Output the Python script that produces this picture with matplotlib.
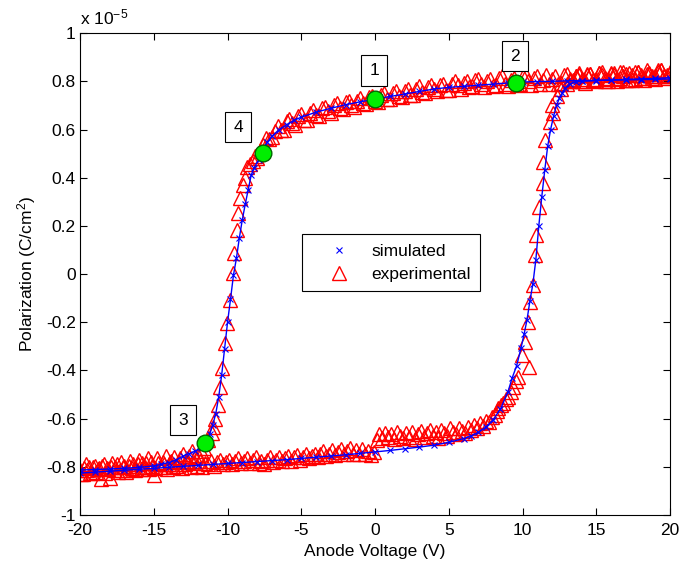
import matplotlib
matplotlib.use("Agg")
import matplotlib.pyplot as plt
from matplotlib.ticker import FuncFormatter

plt.rcParams['font.family'] = ['Liberation Sans', 'DejaVu Sans']
plt.rcParams['axes.unicode_minus'] = False
plt.rcParams['mathtext.default'] = 'regular'

# simulated loop, upper branch (voltage going down), units of 1e-5 C/cm^2
sim_up_v = [20, 19, 18, 17, 16, 15, 14, 13, 12, 11, 10, 9.5, 9, 8, 7, 6, 5, 4, 3, 2, 1, 0,
            -1, -2, -3, -4, -5, -5.5, -6, -6.5, -7, -7.3, -7.6, -7.9, -8.2, -8.4, -8.6, -8.8,
            -9.0, -9.2, -9.4, -9.6, -9.8, -10.0, -10.2, -10.4, -10.6, -10.8, -11.0, -11.2,
            -11.5, -11.8, -12.2, -12.6, -13, -13.5, -14, -14.5, -15, -16, -17, -18, -19, -20]
sim_up_p = [0.81, 0.808, 0.807, 0.806, 0.805, 0.804, 0.803, 0.802, 0.80, 0.799, 0.797, 0.795,
            0.793, 0.788, 0.784, 0.779, 0.775, 0.768, 0.758, 0.747, 0.737, 0.726, 0.715, 0.703,
            0.688, 0.672, 0.651, 0.638, 0.620, 0.600, 0.572, 0.548, 0.505, 0.475, 0.44, 0.41,
            0.35, 0.29, 0.225, 0.15, 0.065, -0.005, -0.105, -0.20, -0.31, -0.42, -0.51, -0.58,
            -0.625, -0.663, -0.698, -0.722, -0.735, -0.745, -0.755, -0.772, -0.782, -0.79,
            -0.796, -0.802, -0.806, -0.809, -0.811, -0.813]

# simulated loop, lower branch (voltage going up)
sim_dn_v = [-20, -19, -18, -17, -16, -15, -14, -13, -12, -11, -10, -9, -8, -7, -6, -5, -4, -3,
            -2, -1, 0, 1, 2, 3, 4, 5, 6, 6.5, 7, 7.5, 8, 8.5, 9, 9.3, 9.6, 9.9, 10.1, 10.3,
            10.5, 10.7, 10.9, 11.1, 11.3, 11.5, 11.7, 11.9, 12.1, 12.3, 12.5, 12.7, 12.9, 13.2,
            13.6, 14, 15, 16, 17, 18, 19, 20]
sim_dn_p = [-0.826, -0.822, -0.818, -0.814, -0.81, -0.806, -0.802, -0.798, -0.794, -0.79,
            -0.786, -0.782, -0.778, -0.774, -0.77, -0.765, -0.76, -0.755, -0.75, -0.744,
            -0.738, -0.732, -0.725, -0.718, -0.71, -0.698, -0.683, -0.672, -0.657, -0.635,
            -0.605, -0.56, -0.49, -0.43, -0.38, -0.305, -0.25, -0.19, -0.11, -0.04, 0.06,
            0.20, 0.32, 0.43, 0.53, 0.60, 0.655, 0.70, 0.73, 0.752, 0.772, 0.79, 0.797, 0.80,
            0.803, 0.806, 0.808, 0.81, 0.812, 0.815]

# measured loop, upper branch
exp_up_v = [20.0, 19.8, 19.6, 19.4, 19.2, 19.0, 18.8, 18.6, 18.4, 18.2, 18.0, 17.8, 17.6, 17.4,
            17.2, 17.0, 16.8, 16.6, 16.4, 16.2, 16.0, 15.8, 15.6, 15.4, 15.2, 15.0, 14.8, 14.6,
            14.4, 14.2, 14.0, 13.8, 13.6, 13.4, 13.2, 13.0, 12.8, 12.6, 12.4, 12.2, 12.0, 11.8,
            11.6, 11.4, 11.2, 11.0, 10.8, 10.6, 10.4, 10.2, 10.0, 9.8, 9.6, 9.4, 9.2, 9.0, 8.8,
            8.6, 8.4, 8.2, 8.0, 7.8, 7.6, 7.4, 7.2, 7.0, 6.8, 6.6, 6.4, 6.2, 6.0, 5.8, 5.6, 5.4,
            5.2, 5.0, 4.8, 4.6, 4.4, 4.2, 4.0, 3.8, 3.6, 3.4, 3.2, 3.0, 2.8, 2.6, 2.4, 2.2, 2.0,
            1.8, 1.6, 1.4, 1.2, 1.0, 0.8, 0.6, 0.4, 0.2, 0.0, -0.2, -0.4, -0.6, -0.8, -1.0,
            -1.2, -1.4, -1.6, -1.8, -2.0, -2.2, -2.4, -2.6, -2.8, -3.0, -3.2, -3.4, -3.6, -3.8,
            -4.0, -4.2, -4.4, -4.6, -4.8, -5.0, -5.2, -5.4, -5.6, -5.8, -6.0, -6.2, -6.4, -6.6,
            -6.8, -7.0, -7.2, -7.4, -7.6, -7.8, -8.0, -8.15, -8.3, -8.5, -8.7, -8.81, -8.93,
            -9.15, -9.27, -9.38, -9.56, -9.61, -9.83, -10.05, -10.15, -10.39, -10.51, -10.62,
            -10.85, -10.96, -11.07, -11.3, -11.6, -11.8, -12.0, -12.2, -12.4, -12.6, -12.8,
            -13.0, -13.2, -13.4, -13.6, -13.8, -14.0, -14.2, -14.4, -14.6, -14.8, -15.0, -15.2,
            -15.4, -15.6, -15.8, -16.0, -16.2, -16.4, -16.6, -16.8, -17.0, -17.2, -17.4, -17.6,
            -17.8, -18.0, -18.2, -18.4, -18.6, -18.8, -19.0, -19.2, -19.4, -19.6, -19.8, -20.0]
exp_up_p = [0.835, 0.815, 0.82, 0.845, 0.84, 0.81, 0.815, 0.83, 0.83, 0.805, 0.825, 0.84, 0.81,
            0.825, 0.835, 0.805, 0.82, 0.84, 0.80, 0.825, 0.83, 0.81, 0.815, 0.84, 0.835, 0.80,
            0.805, 0.83, 0.825, 0.795, 0.81, 0.835, 0.82, 0.80, 0.80, 0.83, 0.825, 0.795, 0.79,
            0.82, 0.81, 0.79, 0.825, 0.805, 0.79, 0.82, 0.815, 0.785, 0.80, 0.825, 0.82, 0.79,
            0.785, 0.815, 0.805, 0.78, 0.79, 0.82, 0.815, 0.785, 0.78, 0.81, 0.80, 0.775, 0.79,
            0.81, 0.805, 0.78, 0.775, 0.80, 0.795, 0.77, 0.785, 0.80, 0.79, 0.765, 0.765, 0.79,
            0.785, 0.76, 0.77, 0.785, 0.775, 0.75, 0.755, 0.78, 0.77, 0.745, 0.745, 0.77, 0.76,
            0.735, 0.74, 0.76, 0.75, 0.725, 0.725, 0.75, 0.745, 0.715, 0.72, 0.74, 0.735, 0.705,
            0.71, 0.73, 0.72, 0.695, 0.70, 0.72, 0.715, 0.685, 0.69, 0.71, 0.70, 0.67, 0.675,
            0.695, 0.69, 0.655, 0.66, 0.68, 0.67, 0.64, 0.64, 0.665, 0.655, 0.62, 0.625, 0.645,
            0.635, 0.60, 0.60, 0.615, 0.595, 0.57, 0.56, 0.565, 0.535, 0.51, 0.48, 0.49, 0.47,
            0.455, 0.445, 0.40, 0.37, 0.314, 0.252, 0.183, 0.086, 0.003, -0.108, -0.205, -0.288,
            -0.391, -0.468, -0.544, -0.60, -0.634, -0.661, -0.69, -0.72, -0.735, -0.75, -0.76,
            -0.735, -0.755, -0.775, -0.745, -0.765, -0.795, -0.76, -0.775, -0.79, -0.755, -0.78,
            -0.80, -0.765, -0.835, -0.78, -0.765, -0.80, -0.785, -0.77, -0.81, -0.79, -0.775,
            -0.815, -0.795, -0.78, -0.82, -0.80, -0.785, -0.845, -0.805, -0.79, -0.85, -0.81,
            -0.795, -0.825, -0.80, -0.79, -0.83, -0.815]

# measured loop, lower branch
exp_dn_v = [-19.9, -19.7, -19.5, -19.3, -19.1, -18.9, -18.7, -18.5, -18.3, -18.1, -17.9, -17.7,
            -17.5, -17.3, -17.1, -16.9, -16.7, -16.5, -16.3, -16.1, -15.9, -15.7, -15.5, -15.3,
            -15.1, -14.9, -14.7, -14.5, -14.3, -14.1, -13.9, -13.7, -13.5, -13.3, -13.1, -12.9,
            -12.7, -12.5, -12.3, -12.1, -11.9, -11.7, -11.5, -11.3, -11.1, -10.9, -10.7, -10.5,
            -10.3, -10.1, -9.9, -9.7, -9.5, -9.3, -9.1, -8.9, -8.7, -8.5, -8.3, -8.1, -7.9,
            -7.7, -7.5, -7.3, -7.1, -6.9, -6.7, -6.5, -6.3, -6.1, -5.9, -5.7, -5.5, -5.3, -5.1,
            -4.9, -4.7, -4.5, -4.3, -4.1, -3.9, -3.7, -3.5, -3.3, -3.1, -2.9, -2.7, -2.5, -2.3,
            -2.1, -1.9, -1.7, -1.5, -1.3, -1.1, -0.9, -0.7, -0.5, -0.3, -0.1, 0.1, 0.3, 0.5,
            0.7, 0.9, 1.1, 1.3, 1.5, 1.7, 1.9, 2.1, 2.3, 2.5, 2.7, 2.9, 3.1, 3.3, 3.5, 3.7, 3.9,
            4.1, 4.3, 4.5, 4.7, 4.9, 5.1, 5.3, 5.5, 5.7, 5.9, 6.1, 6.3, 6.5, 6.7, 6.9, 7.1, 7.3,
            7.5, 7.7, 7.9, 8.1, 8.25, 8.36, 8.55, 8.7, 8.9, 9.04, 9.2, 9.38, 9.55, 9.72, 9.94,
            10.46, 10.17, 10.40, 10.51, 10.69, 10.85, 10.89, 11.14, 11.41, 11.37, 11.53, 11.86,
            12.09, 11.98, 12.3, 12.6, 13.0, 13.2, 13.4, 13.6, 13.8, 14.0, 14.2, 14.4, 14.6, 14.8,
            15.0, 15.2, 15.4, 15.6, 15.8, 16.0, 16.2, 16.4, 16.6, 16.8, 17.0, 17.2, 17.4, 17.6,
            17.8, 18.0, 18.2, 18.4, 18.6, 18.8, 19.0, 19.2, 19.4, 19.6, 19.8, 20.0]
exp_dn_p = [-0.83, -0.805, -0.815, -0.825, -0.80, -0.82, -0.805, -0.795, -0.825, -0.81, -0.80,
            -0.815, -0.79, -0.815, -0.80, -0.82, -0.795, -0.805, -0.815, -0.79, -0.81, -0.80,
            -0.785, -0.81, -0.795, -0.805, -0.785, -0.80, -0.79, -0.81, -0.78, -0.80, -0.795,
            -0.78, -0.805, -0.79, -0.78, -0.80, -0.785, -0.795, -0.775, -0.80, -0.785, -0.79,
            -0.775, -0.795, -0.78, -0.77, -0.79, -0.78, -0.77, -0.79, -0.775, -0.765, -0.785,
            -0.775, -0.765, -0.785, -0.77, -0.76, -0.785, -0.775, -0.79, -0.77, -0.76, -0.78,
            -0.77, -0.76, -0.775, -0.765, -0.755, -0.775, -0.76, -0.75, -0.77, -0.76, -0.745,
            -0.765, -0.755, -0.745, -0.76, -0.745, -0.735, -0.755, -0.745, -0.73, -0.75, -0.74,
            -0.725, -0.745, -0.735, -0.72, -0.745, -0.73, -0.745, -0.725, -0.745, -0.735, -0.75,
            -0.74, -0.69, -0.665, -0.68, -0.66, -0.675, -0.665, -0.685, -0.655, -0.67, -0.68,
            -0.66, -0.675, -0.655, -0.685, -0.665, -0.65, -0.675, -0.66, -0.645, -0.67, -0.655,
            -0.68, -0.645, -0.66, -0.67, -0.64, -0.655, -0.665, -0.64, -0.65, -0.66, -0.635,
            -0.645, -0.625, -0.64, -0.62, -0.63, -0.61, -0.615, -0.595, -0.585, -0.57, -0.557,
            -0.545, -0.537, -0.52, -0.509, -0.49, -0.468, -0.445, -0.426, -0.336, -0.385,
            -0.281, -0.198, -0.115, -0.046, 0.079, 0.162, 0.28, 0.376, 0.466, 0.556, 0.632,
            0.667, 0.70, 0.74, 0.77, 0.79, 0.81, 0.805, 0.82, 0.825, 0.80, 0.80, 0.83, 0.83,
            0.805, 0.81, 0.835, 0.825, 0.80, 0.80, 0.835, 0.835, 0.81, 0.815, 0.84, 0.83, 0.805,
            0.805, 0.84, 0.84, 0.815, 0.815, 0.845, 0.835, 0.82, 0.82, 0.845, 0.845, 0.82,
            0.825, 0.84]

# marked states 1..4
pt_labels = ['1', '2', '3', '4']
pt_v = [0, 9.54, -11.53, -7.61]
pt_p = [0.725, 0.795, -0.703, 0.503]
box_v = [-0.07, 9.49, -13.02, -9.29]
box_p = [0.846, 0.905, -0.606, 0.61]

fig = plt.figure(figsize=(6.81, 5.71), dpi=100)
ax = fig.add_axes([0.1175, 0.098, 0.8665, 0.844])

red = '#ff0000'
blue = '#0000ff'
ax.plot(exp_up_v, exp_up_p, '^', mfc='none', mec=red, ms=10.5, mew=1.0)
ax.plot(exp_dn_v, exp_dn_p, '^', mfc='none', mec=red, ms=10.5, mew=1.0)
ax.plot(sim_up_v, sim_up_p, '-', color=blue, lw=1.0)
ax.plot(sim_dn_v, sim_dn_p, '-', color=blue, lw=1.0)
ax.plot(sim_up_v, sim_up_p, 'x', color=blue, ms=4, mew=0.8)
ax.plot(sim_dn_v, sim_dn_p, 'x', color=blue, ms=4, mew=0.8)
ax.plot(pt_v, pt_p, 'o', mfc='#00ee00', mec='#006600', ms=12, mew=1.0, zorder=5)

for lab, bv, bp in zip(pt_labels, box_v, box_p):
    ax.text(bv, bp, lab, ha='center', va='center', fontsize=12.5,
            bbox=dict(boxstyle='square,pad=0.45', fc='white', ec='black', lw=0.8))

h_sim, = ax.plot([], [], 'x', color=blue, ms=5, mew=0.8)
h_exp, = ax.plot([], [], '^', mfc='none', mec=red, ms=10.5, mew=1.0)
leg = ax.legend([h_sim, h_exp], ['simulated', 'experimental'], loc='upper left',
                bbox_to_anchor=(0.376, 0.583), borderaxespad=0, fontsize=12.5,
                fancybox=False, framealpha=1, edgecolor='black', borderpad=0.55,
                handletextpad=0.25, labelspacing=0.45, handlelength=3.2)
leg.get_frame().set_linewidth(0.8)

ax.set_xlim(-20, 20)
ax.set_ylim(-1, 1)
ax.set_xticks([-20, -15, -10, -5, 0, 5, 10, 15, 20])
ax.set_yticks([-1, -0.8, -0.6, -0.4, -0.2, 0, 0.2, 0.4, 0.6, 0.8, 1])
ax.yaxis.set_major_formatter(FuncFormatter(lambda v, p: '%g' % round(v, 2)))
ax.tick_params(direction='in', top=True, right=True, length=5, width=0.8,
               labelsize=12.5)
ax.tick_params(axis='x', pad=6)
ax.tick_params(axis='y', pad=3)
for s in ax.spines.values():
    s.set_linewidth(0.8)

ax.set_xlabel('Anode Voltage (V)', fontsize=12.5, labelpad=4)
ax.set_ylabel('Polarization (C/cm$^2$)', fontsize=12.5, labelpad=6)
ax.text(0.0, 1.012, 'x 10$^{-5}$', transform=ax.transAxes, fontsize=12.5,
        ha='left', va='bottom')

fig.savefig('out.png', dpi=100)
